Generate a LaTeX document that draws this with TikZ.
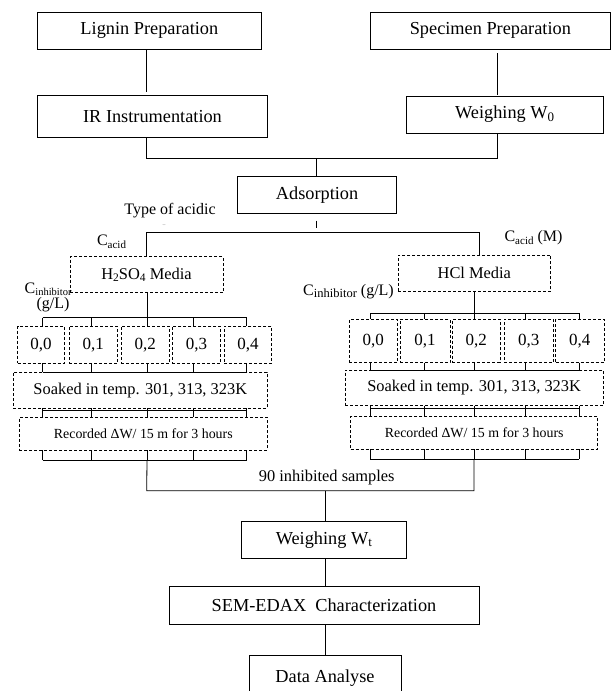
\documentclass[tikz,border=0pt]{standalone}
\usepackage{fontspec}
\setmainfont{Liberation Serif}
\newcommand\sbs[2][12]{\raisebox{-0.3ex}{\fontsize{#1}{#1}\selectfont #2}}
\newcommand\mkbox[7]{\node[#1, minimum width={(#5)-(#3)}, minimum height={(#6)-(#4)}] (#2) at ({((#3)+(#5))/2},{((#4)+(#6))/2}) {#7};}
\tikzset{
  solidbox/.style={draw, line width=0.8pt, inner sep=0pt, outer sep=0pt, font=\fontsize{18.3}{21}\selectfont},
  dbox/.style={draw, line width=0.8pt, dash pattern=on 3pt off 2pt, inner sep=0pt, outer sep=0pt},
  conn/.style={line width=0.8pt},
  lbl/.style={inner sep=0pt, font=\fontsize{16}{19}\selectfont},
  numf/.style={font=\fontsize{17}{20}\selectfont},
  soakf/.style={font=\fontsize{16.4}{19}\selectfont},
  recf/.style={font=\fontsize{13.9}{16}\selectfont},
}
\begin{document}
\begin{tikzpicture}[x=1pt,y=-1pt]
\useasboundingbox (0,0) rectangle (613,691);
\clip (0,0) rectangle (613,691);
% top boxes
\mkbox{solidbox}{lignin}{37.7}{12.3}{261}{49.3}{Lignin Preparation}
\mkbox{solidbox}{spec}{370.7}{12.3}{610}{49.3}{Specimen Preparation}
\mkbox{solidbox}{ir}{37.7}{95.7}{267.3}{137}{IR Instrumentation}
\mkbox{solidbox}{wz}{406.3}{96}{603}{133}{Weighing W\sbs[13]{0}}
\mkbox{solidbox}{ads}{237.5}{176.7}{396.7}{213}{Adsorption}
\coordinate (xL) at (146.7,0);
\coordinate (xR) at (497.3,0);
\coordinate (mTop) at (316,158.3);
\draw[conn, shorten >=4pt] (lignin.south -| xL) -- (ir.north -| xL);
\draw[conn, shorten <=4pt, shorten >=1.5pt] (spec.south -| xR) -- (wz.north -| xR);
\draw[conn] (ir.south -| xL) |- (mTop) -| (wz.south -| xR);
\draw[conn] (mTop) -- (mTop |- ads.north);
% acid media
\coordinate (hA) at (316,232.7);
\coordinate (hL) at (146.7,232.7);
\coordinate (hR) at (479,232.7);
\draw[conn, shorten <=7.7pt, shorten >=4.5pt] (ads.south -| hA) -- (hA);
\mkbox{dbox,soakf}{hso}{70}{256.7}{223}{292.7}{H\sbs[11.5]{2}SO\sbs[11.5]{4} Media}
\mkbox{dbox,soakf}{hcl}{398}{255}{550.7}{291.7}{HCl Media}
\draw[conn] (hso.north -| hL) -- (hL) -- (hR) -- (hR |- hcl.north);
\node[lbl] (typ) at (170,210.5) {Type of acidic};
\node[lbl, font=\fontsize{7}{7}\selectfont, text=gray] (dots) at (164,225) {..};
\node[lbl] (cacid) at (111.5,241.7) {C\sbs[11]{acid}};
\node[lbl] (cacidm) at (533.5,238) {C\sbs[11]{acid} (M)};
\node[lbl, anchor=west] (cinhL) at (24.5,289) {C\sbs[10.5]{inhibitor}};
\node[lbl] (glL) at (53,305) {(g/L)};
\node[lbl, anchor=west] (cinhR) at (303,291.7) {C\sbs[12.5]{inhibitor} (g/L)};
% left column
\mkbox{dbox,numf}{l0}{17.7}{326}{64.3}{363.3}{0,0}
\mkbox{dbox,numf}{l1}{69}{326}{117.3}{363.3}{0,1}
\mkbox{dbox,numf}{l2}{121}{326}{169.3}{363.3}{0,2}
\mkbox{dbox,numf}{l3}{172.3}{326}{220.7}{363.3}{0,3}
\mkbox{dbox,numf}{l4}{224.3}{326}{271.7}{363.3}{0,4}
\mkbox{dbox,soakf}{lsoak}{13.3}{372.3}{267.3}{408.3}{Soaked in temp. 301, 313, 323K}
\mkbox{dbox,recf}{lrec}{19.3}{417.3}{267.3}{450}{Recorded ΔW/ 15 m for 3 hours}
\foreach \i/\x in {0/42.7,1/91.7,2/147,3/193,4/246.7} {
  \coordinate (lt\i) at (\x,317.7);
  \coordinate (lb\i) at (\x,460);
  \draw[conn] (lt\i) -- (lt\i |- l\i.north);
  \draw[conn] (l\i.south -| lt\i) -- (lt\i |- lsoak.north);
  \draw[conn] (lsoak.south -| lt\i) -- (lt\i |- lrec.north);
  \draw[conn] (lrec.south -| lt\i) -- (lb\i);
}
\draw[conn] (lt0) -- (lt4);
\draw[conn] (lt0 |- lsoak.north) -- (lt4 |- lsoak.north);
\draw[conn] ([yshift=-2.5pt]lt0 |- lsoak.south) -- ([yshift=-2.5pt]lt4 |- lsoak.south);
\draw[conn] (lb0) -- (lb4);
\draw[conn] (hso.south -| lt2) -- (lt2);
% right column
\mkbox{dbox,numf}{r0}{349.3}{319.3}{397.3}{362.7}{0,0}
\mkbox{dbox,numf}{r1}{400}{319.3}{450}{362.7}{0,1}
\mkbox{dbox,numf}{r2}{452.3}{319.3}{500}{362.7}{0,2}
\mkbox{dbox,numf}{r3}{504}{319.3}{553.3}{362.7}{0,3}
\mkbox{dbox,numf}{r4}{555.7}{319.3}{604}{362.7}{0,4}
\mkbox{dbox,soakf}{rsoak}{345}{370}{603.3}{405.7}{Soaked in temp. 301, 313, 323K}
\mkbox{dbox,recf}{rrec}{350.7}{416.7}{597.7}{449.3}{Recorded ΔW/ 15 m for 3 hours}
\foreach \i/\x in {0/370,1/424,2/474,3/525,4/579.3} {
  \coordinate (rt\i) at (\x,313);
  \coordinate (rb\i) at (\x,459);
  \draw[conn] (rt\i) -- (rt\i |- r\i.north);
  \draw[conn] (r\i.south -| rt\i) -- (rt\i |- rsoak.north);
  \draw[conn] (rsoak.south -| rt\i) -- (rt\i |- rrec.north);
  \draw[conn] (rrec.south -| rt\i) -- (rb\i);
}
\draw[conn] (rt0) -- (rt4);
\draw[conn] (rt0 |- rsoak.north) -- (rt4 |- rsoak.north);
\draw[conn] ([yshift=-2.5pt]rt0 |- rsoak.south) -- ([yshift=-2.5pt]rt4 |- rsoak.south);
\draw[conn] (rb0) -- (rb4);
\draw[conn] (hcl.south -| rt2) -- (rt2);
% bottom
\coordinate (jL) at (146.7,490.7);
\coordinate (jR) at (474,490.7);
\coordinate (jM) at (325,490.7);
\draw[conn] (lb2) -- (jL) -- (jR) -- (rb2);
\node[lbl, font=\fontsize{16.4}{19}\selectfont] (ninety) at (326.7,477.3) {90 inhibited samples};
\mkbox{solidbox}{wt}{241.7}{521.7}{406}{558.3}{Weighing W\sbs[13]{t}}
\mkbox{solidbox}{sem}{169}{586.7}{479}{624.3}{SEM-EDAX\ \ Characterization}
\mkbox{solidbox}{data}{249}{655.7}{401}{700}{Data Analyse}
\draw[conn] (jM) -- (jM |- wt.north);
\draw[conn] (wt.south -| jM) -- (jM |- sem.north);
\draw[conn] (sem.south -| jM) -- (jM |- data.north);
\end{tikzpicture}
\end{document}
